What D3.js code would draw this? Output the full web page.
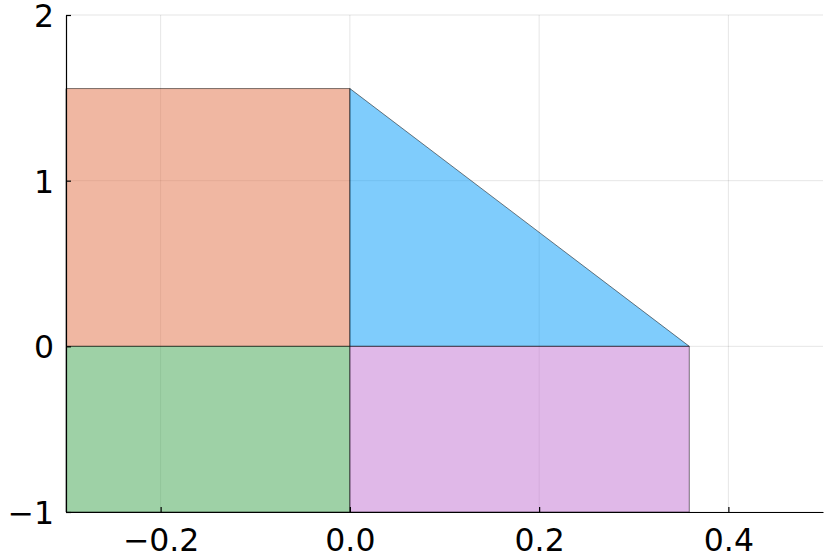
<!DOCTYPE html>
<html>
<head>
<meta charset="utf-8">
<script src="https://cdn.jsdelivr.net/npm/d3@7"></script>
<style>
html,body{margin:0;padding:0;background:#fff;}
svg{display:block;}
text{font-family:"DejaVu Sans",sans-serif;}
</style>
</head>
<body>
<svg id="chart" width="830" height="554"></svg>
<script>
// Data
const xTicks = [-0.2, 0.0, 0.2, 0.4];
const xTickLabels = ["\u22120.2", "0.0", "0.2", "0.4"];
const yTicks = [-1, 0, 1, 2];
const yTickLabels = ["\u22121", "0", "1", "2"];
const xDomain = [-0.3, 0.5];
const yDomain = [-1, 2];

const shapeNames = ["upperLeft", "triangle", "lowerLeft", "lowerRight"];
const shapeColors = ["#e26f46", "#009af9", "#3da44d", "#c271d2"];
const upperLeftX = [-0.3, 0.0, 0.0, -0.3];
const upperLeftY = [0, 0, 1.556, 1.556];
const triangleX = [0.0, 0.3587, 0.0];
const triangleY = [0, 0, 1.556];
const lowerLeftX = [-0.3, 0.0, 0.0, -0.3];
const lowerLeftY = [-1, -1, 0, 0];
const lowerRightX = [0.0, 0.3587, 0.3587, 0.0];
const lowerRightY = [-1, -1, 0, 0];
const shapesX = [upperLeftX, triangleX, lowerLeftX, lowerRightX];
const shapesY = [upperLeftY, triangleY, lowerLeftY, lowerRightY];

(function () {
const W = 830, H = 554;
const mLeft = 66, mRight = 823, mTop = 15, mBottom = 512;
const svg = d3.select("#chart");
const x = d3.scaleLinear().domain(xDomain).range([mLeft, mRight]);
const y = d3.scaleLinear().domain(yDomain).range([mBottom, mTop]);

// Grid
const grid = svg.append("g");
grid.selectAll("line.gx").data(xTicks).join("line")
  .attr("x1", d => x(d)).attr("x2", d => x(d))
  .attr("y1", mTop).attr("y2", mBottom)
  .attr("stroke", "#000").attr("stroke-opacity", 0.1).attr("stroke-width", 1);
grid.selectAll("line.gy").data(yTicks).join("line")
  .attr("x1", mLeft).attr("x2", mRight)
  .attr("y1", d => y(d)).attr("y2", d => y(d))
  .attr("stroke", "#000").attr("stroke-opacity", 0.1).attr("stroke-width", 1);

// Shapes
const line = d3.line().x(d => x(d[0])).y(d => y(d[1]));
shapeNames.forEach((name, i) => {
  const pts = shapesX[i].map((v, j) => [v, shapesY[i][j]]);
  svg.append("path")
    .attr("class", name)
    .attr("d", line(pts) + "Z")
    .attr("fill", shapeColors[i]).attr("fill-opacity", 0.5)
    .attr("stroke", "#000").attr("stroke-opacity", 0.5).attr("stroke-width", 1)
    .attr("stroke-linejoin", "round");
});

// Axes
const xAxis = d3.axisBottom(x).tickValues(xTicks).tickFormat((d, i) => xTickLabels[i]).tickSizeInner(-5).tickSizeOuter(0).tickPadding(12);
const gx = svg.append("g").attr("transform", `translate(0,${mBottom})`).call(xAxis);
gx.select(".domain").attr("stroke", "#000").attr("stroke-width", 1.2);
gx.selectAll(".tick line").attr("stroke", "#000").attr("stroke-width", 1.2);
gx.selectAll(".tick text").attr("font-size", "31.5px").attr("fill", "#000")
  .attr("font-family", "DejaVu Sans").attr("dy", null).attr("y", 38.5);

const yAxis = d3.axisLeft(y).tickValues(yTicks).tickFormat((d, i) => yTickLabels[i]).tickSizeInner(-5).tickSizeOuter(0).tickPadding(12);
const gy = svg.append("g").attr("transform", `translate(${mLeft},0)`).call(yAxis);
gy.select(".domain").attr("stroke", "#000").attr("stroke-width", 1.2);
gy.selectAll(".tick line").attr("stroke", "#000").attr("stroke-width", 1.2);
gy.selectAll(".tick text").attr("font-size", "31.5px").attr("fill", "#000")
  .attr("font-family", "DejaVu Sans").attr("dy", null).attr("y", 11.5).attr("x", -12);
})();
</script>
</body>
</html>
